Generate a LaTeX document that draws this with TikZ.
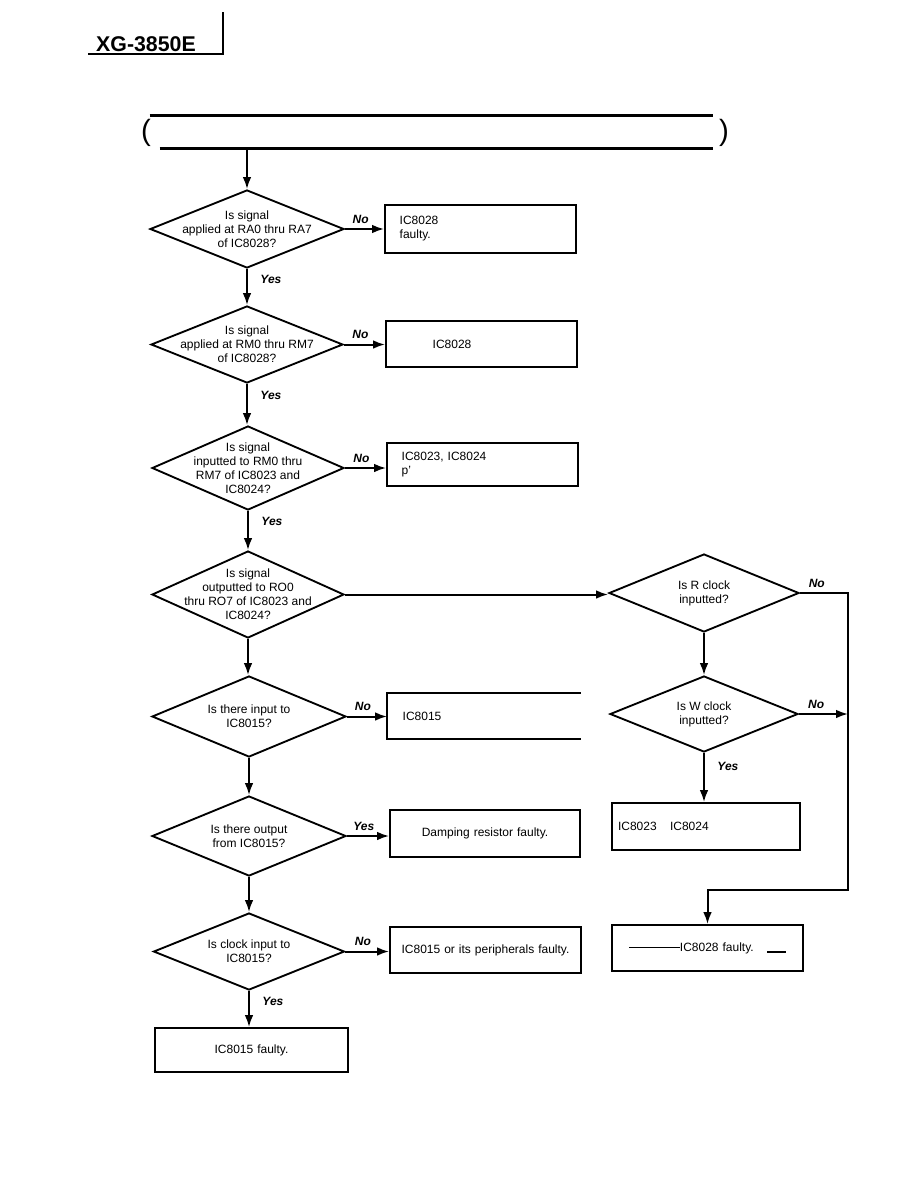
\documentclass[tikz,border=0pt]{standalone}
\usepackage{fontspec}
\setmainfont{Liberation Sans}
\usetikzlibrary{arrows.meta, shapes.geometric}

\begin{document}
\begin{tikzpicture}[
  x=0.75pt, y=-0.75pt,
  >={Latex[length=9pt,width=6.5pt]},
  every node/.style={font=\fontsize{9}{10.5}\selectfont},
  dia/.style  = {draw, diamond, line width=1.4pt, inner sep=0pt},
  qtext/.style = {align=center, inner sep=0pt},
  box/.style  = {draw, rectangle, line width=1.4pt, inner xsep=11pt,
                 inner ysep=0pt, align=left},
  arr/.style  = {->, line width=1.5pt},
  yn/.style   = {font=\fontsize{9}{10.5}\selectfont\bfseries\itshape},
  rule/.style = {line width=2.2pt},
  paren/.style = {font=\fontsize{22}{22}\selectfont, inner sep=0pt}
]
\useasboundingbox (0,0) rectangle (918,1188);

% page header
\node[font=\fontsize{16}{18}\selectfont\bfseries] (model) at (146,44) {XG-3850E};
\coordinate (hl) at (88,54);
\coordinate (hc) at (223,54);
\coordinate (ht) at (223,12);
\draw[line width=1pt] (hl) -- (hc) -- (ht);

% title bar (empty)
\node[minimum width=414.75pt, minimum height=24pt, inner sep=0pt] (title) at (436.5,132) {};
\draw[rule] ([xshift=-7.5pt]title.north west) -- (title.north east);
\draw[rule] (title.south west) -- (title.south east);
\node[paren] (lp) at (146,133) {(};
\node[paren] (rp) at (724,133) {)};

% main column
\node[dia, minimum width=145.5pt, minimum height=58.5pt,
      label={[qtext, name=d1t]center:Is signal\\applied at RA0 thru RA7\\of IC8028?}]
  (d1) at (247,229) {};
\node[dia, minimum width=144pt, minimum height=57.75pt,
      label={[qtext, name=d2t]center:Is signal\\applied at RM0 thru RM7\\of IC8028?}]
  (d2) at (247,344.5) {};
\node[dia, minimum width=144pt, minimum height=63pt,
      label={[qtext, name=d3t]center:Is signal\\inputted to RM0 thru\\RM7 of IC8023 and\\IC8024?}]
  (d3) at (248,468) {};
\node[dia, minimum width=144pt, minimum height=65.25pt,
      label={[qtext, name=d4t]center:Is signal\\outputted to RO0\\thru RO7 of IC8023 and\\IC8024?}]
  (d4) at (248,594.5) {};
\node[dia, minimum width=145.5pt, minimum height=60.75pt,
      label={[qtext, name=d5t]center:Is there input to\\IC8015?}]
  (d5) at (249,716.5) {};
\node[dia, minimum width=145.5pt, minimum height=60pt,
      label={[qtext, name=d6t]center:Is there output\\from IC8015?}]
  (d6) at (249,836) {};
\node[dia, minimum width=143.25pt, minimum height=57.75pt,
      label={[qtext, name=d7t]center:Is clock input to\\IC8015?}]
  (d7) at (249,951.5) {};
\node[box, text width=122.75pt, minimum height=33pt, align=center] (b8) at (251.5,1050) {IC8015 faulty.};

% result boxes
\node[box, text width=121.25pt, minimum height=36pt] (b1) at (480.5,229) {IC8028\\faulty.};
\node[box, text width=121.25pt, minimum height=34.5pt] (b2) at (481.5,344) {\hspace*{24pt}IC8028};
\node[box, text width=121.25pt, minimum height=32.25pt] (b3) at (482.5,464.5) {IC8023, IC8024\\p'};
\node[box, draw=none, text width=122pt, minimum height=33pt] (b5) at (484,716) {IC8015};
\draw[line width=1.4pt] (b5.north east) -- (b5.north west) -- (b5.south west) -- (b5.south east);
\node[box, text width=120.5pt, minimum height=35.25pt, align=center] (b6) at (485,833.5) {Damping resistor faulty.};
\node[box, inner xsep=3pt, text width=137.25pt, minimum height=34.5pt, align=center] (b7) at (485.5,950)
  {\mbox{IC8015 or its peripherals faulty.}};

% clock branch
\node[dia, minimum width=142.5pt, minimum height=58.5pt,
      label={[qtext, name=dRt]center:Is R clock\\inputted?}]
  (dR) at (704,593) {};
\node[dia, minimum width=141pt, minimum height=57pt,
      label={[qtext, name=dWt]center:Is W clock\\inputted?}]
  (dW) at (704,714) {};
\node[box, inner xsep=4.5pt, text width=132pt, minimum height=35.25pt] (bW) at (706,826.5)
  {IC8023\hspace{10pt}IC8024\\[4pt]};
\node[box, inner xsep=4pt, text width=135pt, minimum height=34.5pt, align=center] (bF) at (707.5,948)
  {\rule[2.5pt]{38pt}{0.5pt}IC8028 faulty.\hspace{10pt}\rule[-1.5pt]{14pt}{1.6pt}};
\coordinate (rbend) at (848,890);

% connectors
\draw[arr] (title.south -| d1.north) -- (d1.north);
\draw[arr] (d1.east) -- node[yn, above, pos=0.4] (n1) {No} (d1.east -| b1.west);
\draw[arr] (d1.south) -- node[yn, right=6pt, pos=0.28] (y1) {Yes} (d2.north);
\draw[arr] (d2.east) -- node[yn, above, pos=0.4] (n2) {No} (d2.east -| b2.west);
\draw[arr] (d2.south) -- node[yn, right=6pt, pos=0.28] (y2) {Yes} (d2.south |- d3.north);
\draw[arr] (d3.east) -- node[yn, above, pos=0.4] (n3) {No} (d3.east -| b3.west);
\draw[arr] (d3.south) -- node[yn, right=6pt, pos=0.28] (y3) {Yes} (d4.north);
\draw[arr] (d4.east) -- (d4.east -| dR.west);
\draw[arr] (d4.south) -- (d4.south |- d5.north);
\draw[arr] (d5.east) -- node[yn, above, pos=0.4] (n5) {No} (d5.east -| b5.west);
\draw[arr] (d5.south) -- (d6.north);
\draw[arr] (d6.east) -- node[yn, above, pos=0.4] (y6) {Yes} (d6.east -| b6.west);
\draw[arr] (d6.south) -- (d7.north);
\draw[arr] (d7.east) -- node[yn, above, pos=0.4] (n7) {No} (d7.east -| b7.west);
\draw[arr] (d7.south) -- node[yn, right=6pt, pos=0.3] (y7) {Yes} (d7.south |- b8.north);
\draw[arr] (dR.south) -- (dW.north);
\draw[arr] (dW.south) -- node[yn, right=6pt, pos=0.28] (yW) {Yes} (dW.south |- bW.north);
\draw[arr] (dR.east) -- node[yn, above, pos=0.35] (nR) {No} (dR.east -| rbend) -- (rbend) -| (bF.north);
\draw[arr] (dW.east) -- node[yn, above, pos=0.35] (nW) {No} (dW.east -| rbend);
\end{tikzpicture}
\end{document}
